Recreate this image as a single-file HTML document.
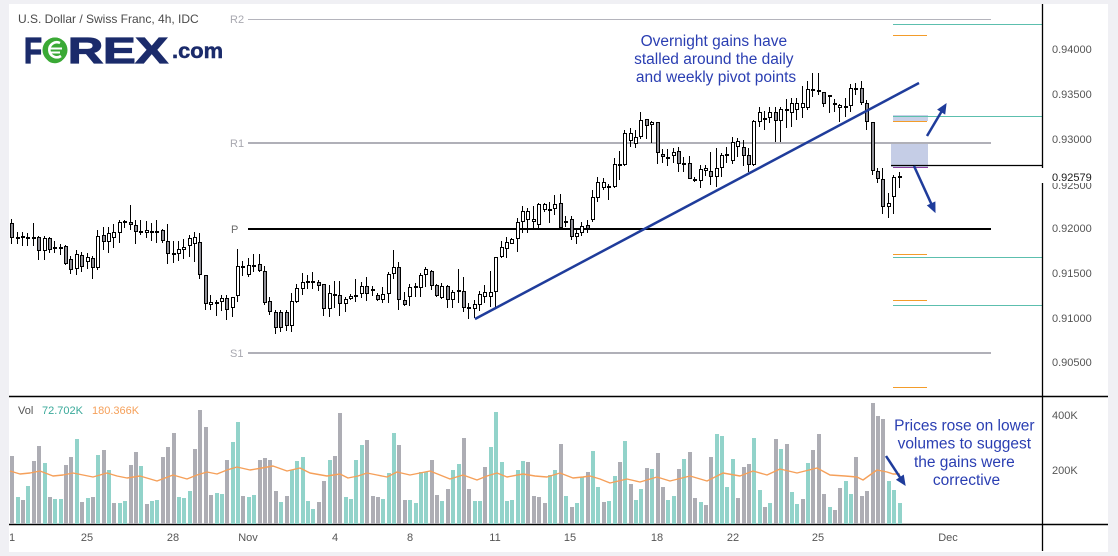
<!DOCTYPE html>
<html><head><meta charset="utf-8"><style>
html,body{margin:0;padding:0;background:#f0f0f4;}
svg{display:block;font-family:"Liberation Sans",Arial,sans-serif;}
.w{fill:#fff;stroke:#000;stroke-width:1}
.g{fill:#8f8f96;stroke:#000;stroke-width:1}
.vt{fill:#92d3ca}
.vg{fill:#adadb4}
.ax{font-size:11px;fill:#555}
</style></head><body>
<svg width="1118" height="556" viewBox="0 0 1118 556" xmlns="http://www.w3.org/2000/svg">
<defs><clipPath id="cl"><rect x="10" y="4" width="1098" height="548"/></clipPath></defs>
<rect width="1118" height="556" fill="#f0f0f4"/>
<rect x="9" y="4" width="1099" height="548" fill="#fff"/>

<!-- title -->
<text x="18" y="23" font-size="12" fill="#4a4a4a">U.S. Dollar / Swiss Franc, 4h, IDC</text>

<!-- logo -->
<text x="24" y="63" font-size="36" font-weight="bold" fill="#1b2b6b" stroke="#1b2b6b" stroke-width="1.2" textLength="18" lengthAdjust="spacingAndGlyphs">F</text>
<circle cx="55" cy="50" r="12.5" fill="#3aa935"/>
<text x="43" y="63" font-size="36" font-weight="bold" fill="#3aa935" textLength="24" lengthAdjust="spacingAndGlyphs">O</text>
<path d="M60 43 A7.5 7.5 0 1 0 61 56" fill="none" stroke="#fff" stroke-width="2.6"/>
<path d="M49 48.5H62M49 52.5H60" stroke="#fff" stroke-width="2"/>
<text x="68" y="63" font-size="36" font-weight="bold" fill="#1b2b6b" stroke="#1b2b6b" stroke-width="1.2" textLength="100" lengthAdjust="spacingAndGlyphs">REX</text>
<text x="172" y="58" font-size="21" font-weight="bold" fill="#1b2b6b" stroke="#1b2b6b" stroke-width="0.5" textLength="51" lengthAdjust="spacingAndGlyphs">.com</text>

<!-- right-side level boxes -->
<rect x="891" y="143" width="37" height="24" fill="#c5cde6"/>
<rect x="893" y="115" width="35" height="6" fill="#c8d0e8"/>

<!-- pivot lines -->
<line x1="248" y1="19.5" x2="991" y2="19.5" stroke="#b4b4bc" stroke-width="1"/>
<line x1="248" y1="143" x2="991" y2="143" stroke="#b0b0b8" stroke-width="2"/>
<line x1="248" y1="229" x2="991" y2="229" stroke="#000" stroke-width="2"/>
<line x1="248" y1="353" x2="991" y2="353" stroke="#b0b0b8" stroke-width="2"/>
<text x="230" y="23" font-size="11" fill="#a8a8b0">R2</text>
<text x="230" y="147" font-size="11" fill="#a8a8b0">R1</text>
<text x="231" y="233" font-size="11" fill="#6a6a6a">P</text>
<text x="230" y="357" font-size="11" fill="#a8a8b0">S1</text>

<g stroke-width="1" fill="none">
<path d="M893 24.5H1042M893 116.5H1042M893 257.5H1042M893 305.5H1042" stroke="#5cbfae"/>
<path d="M893 35.5H927M893 121.5H927M893 254.5H927M893 300.5H927M893 387.5H927" stroke="#f39c2a"/>
<path d="M891 165.5H1042" stroke="#000" stroke-width="1.3"/>
<path d="M893 167.5H928" stroke="#8a3fa0"/>
</g>

<!-- candles -->
<g shape-rendering="crispEdges">
<path stroke="#000" stroke-width="1" fill="none" d="M11.5 219V244M17.5 232V244M22.5 232V246M27.5 233V246M33.5 223V246M38.5 236V260M44.5 236V260M49.5 237V253M54.5 241V253M60.5 244V255M65.5 245V265M70.5 256V274M76.5 250V275M81.5 252V272M87.5 253V269M92.5 256V279M97.5 230V270M103.5 227V250M108.5 227V253M113.5 224V248M119.5 220V243M124.5 220V228M130.5 205V230M135.5 220V244M140.5 220V235M146.5 221V238M151.5 223V241M156.5 220V243M162.5 229V243M167.5 224V264M173.5 241V263M178.5 241V261M183.5 239V259M189.5 235V257M194.5 232V262M199.5 233V279M205.5 275V310M210.5 295V310M216.5 300V316M221.5 295V311M226.5 295V320M232.5 297V317M237.5 249V302M242.5 261V276M248.5 258V277M253.5 254V272M259.5 254V272M264.5 266V305M269.5 297V315M275.5 310V334M280.5 310V332M286.5 310V331M291.5 293V332M296.5 284V303M302.5 273V295M307.5 275V289M312.5 272V289M318.5 280V291M323.5 284V316M329.5 285V317M334.5 281V308M339.5 281V316M345.5 297V312M350.5 294V300M355.5 279V302M361.5 282V298M366.5 277V301M372.5 286V296M377.5 293V301M382.5 287V303M388.5 272V303M393.5 250V279M398.5 262V310M404.5 292V306M409.5 284V306M415.5 283V297M420.5 273V297M425.5 267V287M431.5 270V290M436.5 284V297M441.5 283V299M447.5 285V308M452.5 290V308M458.5 269V303M463.5 277V312M468.5 303V319M474.5 300V318M479.5 291V311M484.5 285V303M490.5 271V307M495.5 257V307M501.5 241V258M506.5 237V258M511.5 238V244M517.5 218V252M522.5 206V233M527.5 208V233M533.5 206V230M538.5 203V230M544.5 203V212M549.5 202V223M554.5 195V215M560.5 194V228M565.5 216V227M571.5 216V240M576.5 229V244M581.5 222V236M587.5 220V233M592.5 190V222M597.5 177V202M603.5 178V190M608.5 184V200M614.5 158V188M619.5 151V180M624.5 130V166M630.5 128V147M635.5 130V148M640.5 112V139M646.5 119V139M651.5 121V143M657.5 122V164M662.5 149V163M667.5 149V166M673.5 148V163M678.5 147V172M683.5 157V172M689.5 156V179M694.5 177V182M700.5 165V188M705.5 165V176M710.5 152V185M716.5 148V187M721.5 153V177M726.5 147V163M732.5 137V164M737.5 138V157M743.5 140V166M748.5 148V172M753.5 120V166M759.5 107V127M764.5 111V130M769.5 107V123M775.5 107V142M780.5 107V142M786.5 99V128M791.5 98V127M796.5 98V120M802.5 86V118M807.5 81V110M812.5 73V97M818.5 73V95M823.5 92V107M829.5 95V113M834.5 99V112M839.5 104V122M845.5 98V117M850.5 84V112M855.5 83V95M861.5 81V105M866.5 100V130M872.5 122V175M877.5 168V183M882.5 168V214M888.5 193V218M893.5 175V214M899.5 172V188"/>
<rect class="g" x="10.5" y="223.5" width="3" height="14"/>
<rect class="g" x="16.5" y="237.5" width="3" height="1"/>
<rect class="w" x="21.5" y="236.5" width="3" height="1"/>
<rect class="w" x="26.5" y="237.5" width="3" height="1"/>
<rect class="g" x="32.5" y="237.5" width="3" height="1"/>
<rect class="g" x="37.5" y="237.5" width="3" height="13"/>
<rect class="w" x="43.5" y="238.5" width="3" height="12"/>
<rect class="g" x="48.5" y="238.5" width="3" height="11"/>
<rect class="w" x="53.5" y="247.5" width="3" height="1"/>
<rect class="g" x="59.5" y="247.5" width="3" height="1"/>
<rect class="g" x="64.5" y="246.5" width="3" height="17"/>
<rect class="g" x="69.5" y="259.5" width="3" height="10"/>
<rect class="w" x="75.5" y="254.5" width="3" height="14"/>
<rect class="g" x="80.5" y="255.5" width="3" height="11"/>
<rect class="w" x="86.5" y="257.5" width="3" height="4"/>
<rect class="g" x="91.5" y="258.5" width="3" height="9"/>
<rect class="w" x="96.5" y="236.5" width="3" height="31"/>
<rect class="g" x="102.5" y="235.5" width="3" height="6"/>
<rect class="w" x="107.5" y="233.5" width="3" height="8"/>
<rect class="w" x="112.5" y="232.5" width="3" height="5"/>
<rect class="w" x="118.5" y="222.5" width="3" height="10"/>
<rect class="w" x="123.5" y="221.5" width="3" height="1"/>
<rect class="g" x="129.5" y="222.5" width="3" height="2"/>
<rect class="g" x="134.5" y="225.5" width="3" height="6"/>
<rect class="w" x="139.5" y="231.5" width="3" height="1"/>
<rect class="w" x="145.5" y="230.5" width="3" height="2"/>
<rect class="w" x="150.5" y="231.5" width="3" height="1"/>
<rect class="w" x="155.5" y="231.5" width="3" height="1"/>
<rect class="g" x="161.5" y="230.5" width="3" height="10"/>
<rect class="g" x="166.5" y="241.5" width="3" height="12"/>
<rect class="w" x="172.5" y="253.5" width="3" height="1"/>
<rect class="w" x="177.5" y="249.5" width="3" height="4"/>
<rect class="w" x="182.5" y="247.5" width="3" height="2"/>
<rect class="w" x="188.5" y="238.5" width="3" height="7"/>
<rect class="w" x="193.5" y="237.5" width="3" height="6"/>
<rect class="g" x="198.5" y="242.5" width="3" height="32"/>
<rect class="g" x="204.5" y="275.5" width="3" height="28"/>
<rect class="w" x="209.5" y="302.5" width="3" height="2"/>
<rect class="w" x="215.5" y="302.5" width="3" height="1"/>
<rect class="w" x="220.5" y="298.5" width="3" height="3"/>
<rect class="g" x="225.5" y="298.5" width="3" height="11"/>
<rect class="w" x="231.5" y="297.5" width="3" height="10"/>
<rect class="w" x="236.5" y="266.5" width="3" height="29"/>
<rect class="g" x="241.5" y="266.5" width="3" height="1"/>
<rect class="w" x="247.5" y="265.5" width="3" height="9"/>
<rect class="w" x="252.5" y="265.5" width="3" height="1"/>
<rect class="g" x="258.5" y="264.5" width="3" height="6"/>
<rect class="g" x="263.5" y="271.5" width="3" height="31"/>
<rect class="g" x="268.5" y="301.5" width="3" height="10"/>
<rect class="g" x="274.5" y="312.5" width="3" height="15"/>
<rect class="g" x="279.5" y="312.5" width="3" height="15"/>
<rect class="g" x="285.5" y="312.5" width="3" height="13"/>
<rect class="w" x="290.5" y="301.5" width="3" height="24"/>
<rect class="w" x="295.5" y="288.5" width="3" height="13"/>
<rect class="w" x="301.5" y="282.5" width="3" height="6"/>
<rect class="g" x="306.5" y="281.5" width="3" height="1"/>
<rect class="w" x="311.5" y="281.5" width="3" height="1"/>
<rect class="g" x="317.5" y="282.5" width="3" height="3"/>
<rect class="g" x="322.5" y="284.5" width="3" height="24"/>
<rect class="w" x="328.5" y="293.5" width="3" height="15"/>
<rect class="w" x="333.5" y="294.5" width="3" height="1"/>
<rect class="g" x="338.5" y="295.5" width="3" height="8"/>
<rect class="w" x="344.5" y="299.5" width="3" height="4"/>
<rect class="w" x="349.5" y="296.5" width="3" height="2"/>
<rect class="w" x="354.5" y="295.5" width="3" height="1"/>
<rect class="w" x="360.5" y="286.5" width="3" height="7"/>
<rect class="g" x="365.5" y="286.5" width="3" height="7"/>
<rect class="w" x="371.5" y="289.5" width="3" height="1"/>
<rect class="g" x="376.5" y="295.5" width="3" height="4"/>
<rect class="w" x="381.5" y="294.5" width="3" height="5"/>
<rect class="w" x="387.5" y="274.5" width="3" height="19"/>
<rect class="w" x="392.5" y="267.5" width="3" height="6"/>
<rect class="g" x="397.5" y="267.5" width="3" height="32"/>
<rect class="g" x="403.5" y="300.5" width="3" height="4"/>
<rect class="w" x="408.5" y="287.5" width="3" height="9"/>
<rect class="w" x="414.5" y="286.5" width="3" height="1"/>
<rect class="w" x="419.5" y="275.5" width="3" height="12"/>
<rect class="w" x="424.5" y="269.5" width="3" height="5"/>
<rect class="g" x="430.5" y="271.5" width="3" height="14"/>
<rect class="g" x="435.5" y="285.5" width="3" height="10"/>
<rect class="w" x="440.5" y="286.5" width="3" height="11"/>
<rect class="g" x="446.5" y="286.5" width="3" height="13"/>
<rect class="w" x="451.5" y="292.5" width="3" height="7"/>
<rect class="w" x="457.5" y="290.5" width="3" height="1"/>
<rect class="g" x="462.5" y="291.5" width="3" height="16"/>
<rect class="w" x="467.5" y="307.5" width="3" height="1"/>
<rect class="w" x="473.5" y="304.5" width="3" height="4"/>
<rect class="w" x="478.5" y="294.5" width="3" height="10"/>
<rect class="w" x="483.5" y="292.5" width="3" height="4"/>
<rect class="w" x="489.5" y="292.5" width="3" height="4"/>
<rect class="w" x="494.5" y="257.5" width="3" height="34"/>
<rect class="w" x="500.5" y="247.5" width="3" height="9"/>
<rect class="w" x="505.5" y="242.5" width="3" height="6"/>
<rect class="w" x="510.5" y="239.5" width="3" height="4"/>
<rect class="w" x="516.5" y="222.5" width="3" height="16"/>
<rect class="w" x="521.5" y="211.5" width="3" height="10"/>
<rect class="w" x="526.5" y="211.5" width="3" height="8"/>
<rect class="w" x="532.5" y="219.5" width="3" height="2"/>
<rect class="w" x="537.5" y="204.5" width="3" height="20"/>
<rect class="w" x="543.5" y="204.5" width="3" height="5"/>
<rect class="w" x="548.5" y="209.5" width="3" height="1"/>
<rect class="w" x="553.5" y="204.5" width="3" height="4"/>
<rect class="g" x="559.5" y="203.5" width="3" height="24"/>
<rect class="w" x="564.5" y="221.5" width="3" height="1"/>
<rect class="g" x="570.5" y="219.5" width="3" height="17"/>
<rect class="w" x="575.5" y="233.5" width="3" height="3"/>
<rect class="w" x="580.5" y="226.5" width="3" height="6"/>
<rect class="g" x="586.5" y="225.5" width="3" height="3"/>
<rect class="w" x="591.5" y="197.5" width="3" height="22"/>
<rect class="w" x="596.5" y="182.5" width="3" height="15"/>
<rect class="w" x="602.5" y="182.5" width="3" height="5"/>
<rect class="w" x="607.5" y="186.5" width="3" height="1"/>
<rect class="w" x="613.5" y="164.5" width="3" height="22"/>
<rect class="w" x="618.5" y="164.5" width="3" height="1"/>
<rect class="w" x="623.5" y="133.5" width="3" height="31"/>
<rect class="w" x="629.5" y="133.5" width="3" height="7"/>
<rect class="w" x="634.5" y="137.5" width="3" height="6"/>
<rect class="w" x="639.5" y="120.5" width="3" height="16"/>
<rect class="g" x="645.5" y="119.5" width="3" height="6"/>
<rect class="w" x="650.5" y="122.5" width="3" height="2"/>
<rect class="g" x="656.5" y="122.5" width="3" height="30"/>
<rect class="g" x="661.5" y="154.5" width="3" height="2"/>
<rect class="w" x="666.5" y="157.5" width="3" height="1"/>
<rect class="w" x="672.5" y="152.5" width="3" height="3"/>
<rect class="g" x="677.5" y="151.5" width="3" height="12"/>
<rect class="g" x="682.5" y="163.5" width="3" height="1"/>
<rect class="g" x="688.5" y="163.5" width="3" height="15"/>
<rect class="g" x="693.5" y="179.5" width="3" height="1"/>
<rect class="w" x="699.5" y="169.5" width="3" height="11"/>
<rect class="w" x="704.5" y="168.5" width="3" height="2"/>
<rect class="g" x="709.5" y="171.5" width="3" height="5"/>
<rect class="w" x="715.5" y="168.5" width="3" height="8"/>
<rect class="w" x="720.5" y="155.5" width="3" height="12"/>
<rect class="w" x="725.5" y="154.5" width="3" height="1"/>
<rect class="w" x="731.5" y="142.5" width="3" height="18"/>
<rect class="w" x="736.5" y="141.5" width="3" height="5"/>
<rect class="g" x="742.5" y="147.5" width="3" height="8"/>
<rect class="g" x="747.5" y="155.5" width="3" height="9"/>
<rect class="w" x="752.5" y="121.5" width="3" height="43"/>
<rect class="w" x="758.5" y="112.5" width="3" height="9"/>
<rect class="w" x="763.5" y="118.5" width="3" height="1"/>
<rect class="w" x="768.5" y="112.5" width="3" height="5"/>
<rect class="g" x="774.5" y="112.5" width="3" height="8"/>
<rect class="w" x="779.5" y="109.5" width="3" height="11"/>
<rect class="w" x="785.5" y="109.5" width="3" height="1"/>
<rect class="w" x="790.5" y="103.5" width="3" height="9"/>
<rect class="w" x="795.5" y="103.5" width="3" height="6"/>
<rect class="w" x="801.5" y="103.5" width="3" height="4"/>
<rect class="w" x="806.5" y="89.5" width="3" height="18"/>
<rect class="w" x="811.5" y="89.5" width="3" height="1"/>
<rect class="w" x="817.5" y="90.5" width="3" height="1"/>
<rect class="g" x="822.5" y="92.5" width="3" height="11"/>
<rect class="w" x="828.5" y="95.5" width="3" height="1"/>
<rect class="w" x="833.5" y="103.5" width="3" height="1"/>
<rect class="w" x="838.5" y="105.5" width="3" height="2"/>
<rect class="w" x="844.5" y="106.5" width="3" height="1"/>
<rect class="w" x="849.5" y="88.5" width="3" height="17"/>
<rect class="w" x="854.5" y="88.5" width="3" height="1"/>
<rect class="g" x="860.5" y="88.5" width="3" height="14"/>
<rect class="g" x="865.5" y="103.5" width="3" height="18"/>
<rect class="g" x="871.5" y="122.5" width="3" height="48"/>
<rect class="g" x="876.5" y="171.5" width="3" height="7"/>
<rect class="g" x="881.5" y="179.5" width="3" height="27"/>
<rect class="w" x="887.5" y="203.5" width="3" height="3"/>
<rect class="w" x="892.5" y="177.5" width="3" height="19"/>
<rect class="w" x="898.5" y="176.5" width="3" height="1"/>
</g>

<!-- trend line & arrows -->
<g stroke="#1f3c9b" fill="#1f3c9b">
<line x1="475" y1="319" x2="919" y2="83" stroke-width="2.5"/>
<line x1="927" y1="136" x2="941.4" y2="111.7" stroke-width="2.5"/>
<polygon points="946,104 944.8,113.8 938,109.6" stroke-width="1"/>
<line x1="914" y1="166" x2="931.3" y2="203.8" stroke-width="2.5"/>
<polygon points="935,212 934.9,202.1 927.7,205.5" stroke-width="1"/>
</g>

<text font-size="15.5" fill="#2a3eb2" text-anchor="middle">
<tspan x="716" y="46">Overnight gains have</tspan>
<tspan x="716" y="64">stalled around the daily</tspan>
<tspan x="716" y="82">and weekly pivot points</tspan>
</text>

<!-- price axis -->
<line x1="1042.5" y1="4" x2="1042.5" y2="551" stroke="#000" stroke-width="1.3"/>
<g class="ax">
<text x="1052" y="53" class="ax">0.94000</text>
<text x="1052" y="98" class="ax">0.93500</text>
<text x="1052" y="143" class="ax">0.93000</text>
<text x="1052" y="189" class="ax">0.92500</text>
<text x="1052" y="232" class="ax">0.92000</text>
<text x="1052" y="277" class="ax">0.91500</text>
<text x="1052" y="322" class="ax">0.91000</text>
<text x="1052" y="366" class="ax">0.90500</text>
</g>
<rect x="1040" y="168" width="62" height="15" fill="#fff"/>
<text x="1052" y="181" font-size="11" fill="#1a1a1a">0.92579</text>

<!-- panel separators -->
<line x1="9" y1="396.5" x2="1108" y2="396.5" stroke="#000" stroke-width="1.5"/>
<line x1="9" y1="524.5" x2="1108" y2="524.5" stroke="#000" stroke-width="1.5"/>

<!-- volume -->
<g shape-rendering="crispEdges">
<rect class="vg" x="10" y="456" width="4" height="68"/>
<rect class="vt" x="16" y="497" width="4" height="27"/>
<rect class="vg" x="21" y="500" width="4" height="24"/>
<rect class="vt" x="26" y="486" width="4" height="38"/>
<rect class="vg" x="32" y="461" width="4" height="63"/>
<rect class="vg" x="37" y="446" width="4" height="78"/>
<rect class="vt" x="43" y="463" width="4" height="61"/>
<rect class="vg" x="48" y="497" width="4" height="27"/>
<rect class="vt" x="53" y="499" width="4" height="25"/>
<rect class="vt" x="59" y="499" width="4" height="25"/>
<rect class="vg" x="64" y="465" width="4" height="59"/>
<rect class="vg" x="69" y="457" width="4" height="67"/>
<rect class="vt" x="75" y="439" width="4" height="85"/>
<rect class="vg" x="80" y="502" width="4" height="22"/>
<rect class="vt" x="86" y="498" width="4" height="26"/>
<rect class="vg" x="91" y="497" width="4" height="27"/>
<rect class="vt" x="96" y="455" width="4" height="69"/>
<rect class="vg" x="102" y="450" width="4" height="74"/>
<rect class="vt" x="107" y="470" width="4" height="54"/>
<rect class="vg" x="112" y="503" width="4" height="21"/>
<rect class="vt" x="118" y="503" width="4" height="21"/>
<rect class="vt" x="123" y="501" width="4" height="23"/>
<rect class="vg" x="129" y="465" width="4" height="59"/>
<rect class="vg" x="134" y="452" width="4" height="72"/>
<rect class="vt" x="139" y="466" width="4" height="58"/>
<rect class="vg" x="145" y="504" width="4" height="20"/>
<rect class="vt" x="150" y="501" width="4" height="23"/>
<rect class="vt" x="155" y="500" width="4" height="24"/>
<rect class="vg" x="161" y="457" width="4" height="67"/>
<rect class="vg" x="166" y="447" width="4" height="77"/>
<rect class="vg" x="172" y="433" width="4" height="91"/>
<rect class="vt" x="177" y="497" width="4" height="27"/>
<rect class="vt" x="182" y="498" width="4" height="26"/>
<rect class="vt" x="188" y="491" width="4" height="33"/>
<rect class="vg" x="193" y="449" width="4" height="75"/>
<rect class="vg" x="198" y="410" width="4" height="114"/>
<rect class="vg" x="204" y="427" width="4" height="97"/>
<rect class="vg" x="209" y="495" width="4" height="29"/>
<rect class="vt" x="215" y="493" width="4" height="31"/>
<rect class="vt" x="220" y="494" width="4" height="30"/>
<rect class="vg" x="225" y="460" width="4" height="64"/>
<rect class="vt" x="231" y="442" width="4" height="82"/>
<rect class="vt" x="236" y="422" width="4" height="102"/>
<rect class="vg" x="241" y="496" width="4" height="28"/>
<rect class="vt" x="247" y="497" width="4" height="27"/>
<rect class="vt" x="252" y="495" width="4" height="29"/>
<rect class="vg" x="258" y="460" width="4" height="64"/>
<rect class="vg" x="263" y="458" width="4" height="66"/>
<rect class="vg" x="268" y="460" width="4" height="64"/>
<rect class="vg" x="274" y="491" width="4" height="33"/>
<rect class="vt" x="279" y="502" width="4" height="22"/>
<rect class="vg" x="285" y="496" width="4" height="28"/>
<rect class="vt" x="290" y="470" width="4" height="54"/>
<rect class="vt" x="295" y="461" width="4" height="63"/>
<rect class="vt" x="301" y="457" width="4" height="67"/>
<rect class="vt" x="306" y="501" width="4" height="23"/>
<rect class="vt" x="311" y="509" width="4" height="15"/>
<rect class="vg" x="317" y="502" width="4" height="22"/>
<rect class="vg" x="322" y="481" width="4" height="43"/>
<rect class="vt" x="328" y="460" width="4" height="64"/>
<rect class="vg" x="333" y="456" width="4" height="68"/>
<rect class="vg" x="338" y="413" width="4" height="111"/>
<rect class="vt" x="344" y="497" width="4" height="27"/>
<rect class="vt" x="349" y="499" width="4" height="25"/>
<rect class="vt" x="354" y="460" width="4" height="64"/>
<rect class="vt" x="360" y="445" width="4" height="79"/>
<rect class="vg" x="365" y="440" width="4" height="84"/>
<rect class="vg" x="371" y="496" width="4" height="28"/>
<rect class="vg" x="376" y="497" width="4" height="27"/>
<rect class="vt" x="381" y="499" width="4" height="25"/>
<rect class="vt" x="387" y="473" width="4" height="51"/>
<rect class="vt" x="392" y="433" width="4" height="91"/>
<rect class="vg" x="397" y="445" width="4" height="79"/>
<rect class="vg" x="403" y="500" width="4" height="24"/>
<rect class="vt" x="408" y="500" width="4" height="24"/>
<rect class="vt" x="414" y="503" width="4" height="21"/>
<rect class="vt" x="419" y="472" width="4" height="52"/>
<rect class="vt" x="424" y="472" width="4" height="52"/>
<rect class="vg" x="430" y="460" width="4" height="64"/>
<rect class="vg" x="435" y="495" width="4" height="29"/>
<rect class="vt" x="440" y="501" width="4" height="23"/>
<rect class="vg" x="446" y="489" width="4" height="35"/>
<rect class="vt" x="451" y="470" width="4" height="54"/>
<rect class="vt" x="457" y="464" width="4" height="60"/>
<rect class="vg" x="462" y="438" width="4" height="86"/>
<rect class="vg" x="467" y="489" width="4" height="35"/>
<rect class="vt" x="473" y="501" width="4" height="23"/>
<rect class="vt" x="478" y="501" width="4" height="23"/>
<rect class="vg" x="483" y="467" width="4" height="57"/>
<rect class="vt" x="489" y="447" width="4" height="77"/>
<rect class="vt" x="494" y="412" width="4" height="112"/>
<rect class="vt" x="500" y="462" width="4" height="62"/>
<rect class="vt" x="505" y="501" width="4" height="23"/>
<rect class="vt" x="510" y="500" width="4" height="24"/>
<rect class="vt" x="516" y="470" width="4" height="54"/>
<rect class="vt" x="521" y="461" width="4" height="63"/>
<rect class="vg" x="526" y="462" width="4" height="62"/>
<rect class="vg" x="532" y="496" width="4" height="28"/>
<rect class="vg" x="537" y="497" width="4" height="27"/>
<rect class="vg" x="543" y="503" width="4" height="21"/>
<rect class="vt" x="548" y="475" width="4" height="49"/>
<rect class="vt" x="553" y="470" width="4" height="54"/>
<rect class="vg" x="559" y="444" width="4" height="80"/>
<rect class="vt" x="564" y="496" width="4" height="28"/>
<rect class="vg" x="570" y="507" width="4" height="17"/>
<rect class="vt" x="575" y="503" width="4" height="21"/>
<rect class="vt" x="580" y="477" width="4" height="47"/>
<rect class="vg" x="586" y="472" width="4" height="52"/>
<rect class="vt" x="591" y="451" width="4" height="73"/>
<rect class="vt" x="596" y="487" width="4" height="37"/>
<rect class="vg" x="602" y="502" width="4" height="22"/>
<rect class="vt" x="607" y="501" width="4" height="23"/>
<rect class="vt" x="613" y="476" width="4" height="48"/>
<rect class="vg" x="618" y="462" width="4" height="62"/>
<rect class="vt" x="623" y="441" width="4" height="83"/>
<rect class="vg" x="629" y="484" width="4" height="40"/>
<rect class="vt" x="634" y="500" width="4" height="24"/>
<rect class="vt" x="639" y="489" width="4" height="35"/>
<rect class="vg" x="645" y="468" width="4" height="56"/>
<rect class="vt" x="650" y="469" width="4" height="55"/>
<rect class="vg" x="656" y="453" width="4" height="71"/>
<rect class="vg" x="661" y="487" width="4" height="37"/>
<rect class="vt" x="666" y="500" width="4" height="24"/>
<rect class="vt" x="672" y="496" width="4" height="28"/>
<rect class="vg" x="677" y="469" width="4" height="55"/>
<rect class="vt" x="682" y="459" width="4" height="65"/>
<rect class="vg" x="688" y="452" width="4" height="72"/>
<rect class="vg" x="693" y="498" width="4" height="26"/>
<rect class="vt" x="699" y="502" width="4" height="22"/>
<rect class="vg" x="704" y="505" width="4" height="19"/>
<rect class="vg" x="709" y="457" width="4" height="67"/>
<rect class="vt" x="715" y="434" width="4" height="90"/>
<rect class="vt" x="720" y="436" width="4" height="88"/>
<rect class="vt" x="725" y="487" width="4" height="37"/>
<rect class="vt" x="731" y="459" width="4" height="65"/>
<rect class="vg" x="736" y="498" width="4" height="26"/>
<rect class="vg" x="742" y="467" width="4" height="57"/>
<rect class="vg" x="747" y="464" width="4" height="60"/>
<rect class="vt" x="752" y="438" width="4" height="86"/>
<rect class="vt" x="758" y="490" width="4" height="34"/>
<rect class="vg" x="763" y="507" width="4" height="17"/>
<rect class="vt" x="768" y="503" width="4" height="21"/>
<rect class="vg" x="774" y="439" width="4" height="85"/>
<rect class="vt" x="779" y="449" width="4" height="75"/>
<rect class="vg" x="785" y="444" width="4" height="80"/>
<rect class="vt" x="790" y="492" width="4" height="32"/>
<rect class="vt" x="795" y="504" width="4" height="20"/>
<rect class="vg" x="801" y="499" width="4" height="25"/>
<rect class="vt" x="806" y="463" width="4" height="61"/>
<rect class="vg" x="811" y="450" width="4" height="74"/>
<rect class="vg" x="817" y="434" width="4" height="90"/>
<rect class="vg" x="822" y="494" width="4" height="30"/>
<rect class="vt" x="828" y="507" width="4" height="17"/>
<rect class="vg" x="833" y="510" width="4" height="14"/>
<rect class="vg" x="838" y="488" width="4" height="36"/>
<rect class="vt" x="844" y="481" width="4" height="43"/>
<rect class="vt" x="849" y="494" width="4" height="30"/>
<rect class="vg" x="854" y="457" width="4" height="67"/>
<rect class="vg" x="860" y="496" width="4" height="28"/>
<rect class="vg" x="865" y="491" width="4" height="33"/>
<rect class="vg" x="871" y="403" width="4" height="121"/>
<rect class="vg" x="876" y="416" width="4" height="108"/>
<rect class="vg" x="881" y="419" width="4" height="105"/>
<rect class="vt" x="887" y="481" width="4" height="43"/>
<rect class="vt" x="892" y="490" width="4" height="34"/>
<rect class="vt" x="898" y="503" width="4" height="21"/>
</g>

<path fill="none" stroke="#f5a05a" stroke-width="1.4" stroke-linejoin="round" d="M10 471L20 474L30 473L40 471L53 476L63 475L73 473L83 475L93 477L107 473L117 476L127 478L140 476L157 481L165 478L173 475L187 479L197 475L207 472L217 474L227 470L237 467L250 470L262 468L273 466L287 471L300 468L310 473L327 476L340 474L348 478L358 476L367 473L377 475L387 477L397 472L410 475L420 473L430 471L440 475L450 479L463 475L477 480L487 476L497 473L507 477L523 474L535 476L547 477L560 473L573 478L583 477L590 476L600 479L610 483L627 479L640 482L657 477L670 481L690 476L707 481L723 473L740 476L753 471L767 475L780 469L797 473L817 468L830 475L845 476L857 477L863 480L870 475L877 470L887 472L893 474L900 474"/>

<text x="18" y="414" font-size="11" fill="#555">Vol</text>
<text x="42" y="414" font-size="11" fill="#3aa99a">72.702K</text>
<text x="92" y="414" font-size="11" fill="#f5a05a">180.366K</text>

<text x="1052" y="419" class="ax">400K</text>
<text x="1052" y="474" class="ax">200K</text>

<!-- volume arrow -->
<g stroke="#1f3c9b" fill="#1f3c9b">
<line x1="886" y1="456" x2="900.1" y2="477.5" stroke-width="2.5"/>
<polygon points="905,485 903.4,475.3 896.8,479.7" stroke-width="1"/>
</g>

<text font-size="15.5" fill="#2a3eb2" text-anchor="middle">
<tspan x="966.5" y="430.5">Prices rose on lower</tspan>
<tspan x="966.5" y="448.5">volumes to suggest</tspan>
<tspan x="966.5" y="467">the gains were</tspan>
<tspan x="966.5" y="485">corrective</tspan>
</text>

<!-- time axis -->
<g clip-path="url(#cl)" font-size="11" fill="#555" text-anchor="middle">
<text x="9" y="541">21</text>
<text x="87" y="541">25</text>
<text x="173" y="541">28</text>
<text x="248" y="541">Nov</text>
<text x="335" y="541">4</text>
<text x="410" y="541">8</text>
<text x="495" y="541">11</text>
<text x="570" y="541">15</text>
<text x="657" y="541">18</text>
<text x="733" y="541">22</text>
<text x="818" y="541">25</text>
<text x="948" y="541">Dec</text>
</g>
</svg>
</body></html>
